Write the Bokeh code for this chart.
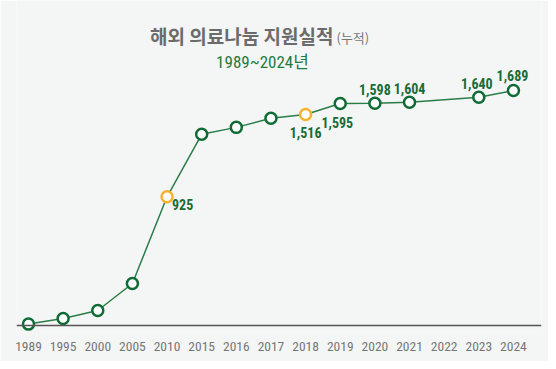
from bokeh.plotting import figure
from bokeh.models import Range1d, Span, Label, ColumnDataSource, FixedTicker
from bokeh.embed import file_html
from bokeh.resources import INLINE

# ---- data ----
tick_years = ["1989", "1995", "2000", "2005", "2010", "2015", "2016", "2017",
              "2018", "2019", "2020", "2021", "2022", "2023", "2024"]
point_years = ["1989", "1995", "2000", "2005", "2010", "2015", "2016", "2017",
               "2018", "2019", "2020", "2021", "2023", "2024"]
point_values = [10, 50, 108, 302, 925, 1374, 1424, 1489, 1516, 1595, 1598, 1604, 1640, 1689]
highlight_years = ["2010", "2018"]
label_years = ["2010", "2018", "2019", "2020", "2021", "2023", "2024"]
label_texts = ["925", "1,516", "1,595", "1,598", "1,604", "1,640", "1,689"]

# ---- style ----
BG = "#f4f5f5"
GREEN_LINE = "#2b7d47"
GREEN_MARK = "#0f6b34"
GREEN_TEXT = "#1a6c37"
ORANGE = "#f6b22a"
GRAY = "#6b6b6b"
NARROW = "'Liberation Sans Narrow', 'Roboto Condensed', 'Arial Narrow', Roboto"

W, H = 548, 361
FL, FR = 16, 541          # frame left/right (px)
x_start, x_end = -0.346, 14.81
k = 235 / 1689.0          # px per unit
BASE = 325                # px of value 0
y_start, y_end = -7 / k, BASE / k

p = figure(width=W, height=H, output_backend="svg", toolbar_location=None,
           x_range=Range1d(x_start, x_end), y_range=Range1d(y_start, y_end),
           min_border_left=FL, min_border_right=W - FR, min_border_top=0,
           min_border_bottom=H - (BASE + 7))
p.background_fill_color = BG
p.border_fill_color = BG
p.outline_line_color = None
p.grid.visible = False
p.yaxis.visible = False

xa = p.xaxis[0]
xa.ticker = FixedTicker(ticks=list(range(len(tick_years))))
xa.major_label_overrides = {i: t for i, t in enumerate(tick_years)}
xa.axis_line_color = None
xa.major_tick_line_color = None
xa.minor_tick_line_color = None
xa.major_label_standoff = 3
xa.major_label_text_font = NARROW
xa.major_label_text_font_size = "13.5px"
xa.major_label_text_color = "#777777"

p.add_layout(Span(location=0, dimension="width", line_color="#555555", line_width=1.5))

idx = {y: i for i, y in enumerate(tick_years)}
xs = [idx[y] for y in point_years]
colors = [ORANGE if y in highlight_years else GREEN_MARK for y in point_years]
src = ColumnDataSource(dict(x=xs, y=point_values, c=colors))

p.line("x", "y", source=src, line_color=GREEN_LINE, line_width=1.5)
p.scatter("x", "y", source=src, size=11, fill_color="white", line_color="c", line_width=2.5)

# value labels
val = dict(zip(point_years, point_values))
placement = {"2010": ("right", 5, 8), "2018": ("below", 0, 18), "2019": ("below", -3, 19),
             "2020": ("above", 0, -14), "2021": ("above", 0, -14), "2023": ("above", -2, -14),
             "2024": ("above", -1, -15)}
for yr, txt in zip(label_years, label_texts):
    pos, dx, dy = placement[yr]
    p.add_layout(Label(x=idx[yr], y=val[yr], text=txt, x_offset=dx, y_offset=-dy,
                       text_align="left" if pos == "right" else "center",
                       text_baseline="middle", text_font=NARROW, text_font_style="bold",
                       text_font_size="14px", text_color=GREEN_TEXT))

# titles (pixel -> data)
def dx_(px):
    return x_start + (px - FL) * (x_end - x_start) / float(FR - FL)

def dy_(py):
    return (BASE - py) / k

p.add_layout(Label(x=dx_(333), y=dy_(35), text="해외 의료나눔 지원실적", text_align="right",
                   text_baseline="middle", text_font="Noto Sans CJK KR", text_font_style="bold",
                   text_font_size="19px", text_color=GRAY))
p.add_layout(Label(x=dx_(336), y=dy_(37), text="(누적)", text_align="left",
                   text_baseline="middle", text_font="Noto Sans CJK KR",
                   text_font_size="13px", text_color="#777777"))
p.add_layout(Label(x=dx_(262), y=dy_(61), text="1989~2024년", text_align="center",
                   text_baseline="middle", text_font=NARROW + ", 'Noto Sans CJK KR'",
                   text_font_size="17px", text_color="#1e7a3e"))

open("out.html", "w").write(file_html(p, INLINE))
